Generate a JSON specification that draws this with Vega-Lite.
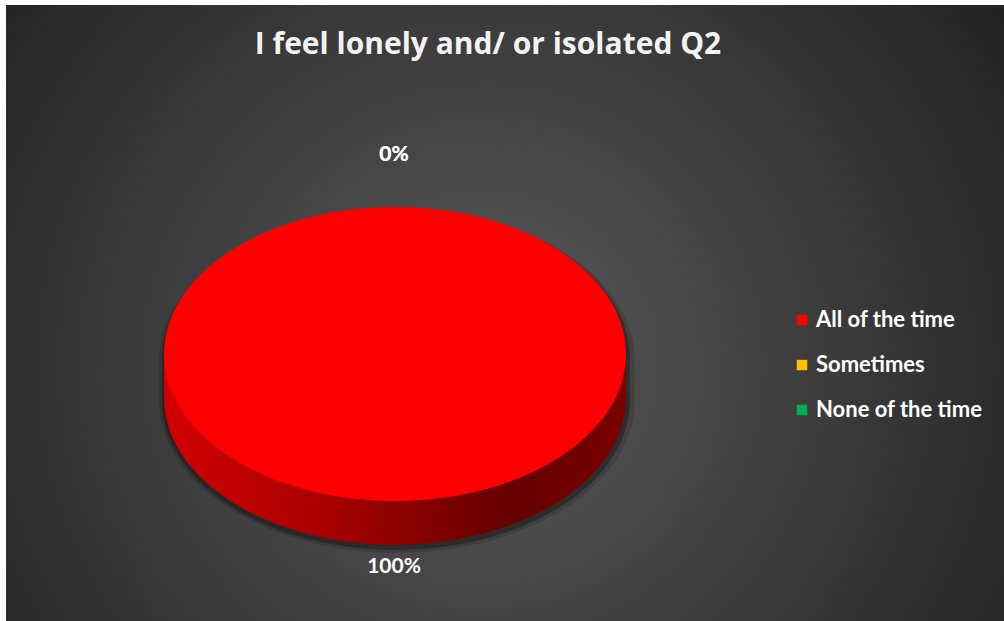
{
  "$schema": "https://vega.github.io/schema/vega-lite/v6.json",
  "width": 1004,
  "height": 621,
  "autosize": {"type": "fit", "contains": "padding"},
  "padding": {"left": 6, "top": 5, "right": 0, "bottom": 0},
  "background": "#ffffff",
  "title": {
    "text": "I feel lonely and/ or isolated Q2",
    "font": "Open Sans",
    "fontSize": 30,
    "fontWeight": "bold",
    "color": "#f2f2f2",
    "offset": -79,
    "baseline": "alphabetic",
    "dx": -17
  },
  "config": {"view": {"stroke": null}},
  "data": {
    "values": [
      {"answer": "All of the time", "share": 1},
      {"answer": "Sometimes", "share": 0},
      {"answer": "None of the time", "share": 0}
    ]
  },
  "layer": [
    {
      "data": {"values": [{}]},
      "mark": {
        "type": "rect",
        "fill": {
          "gradient": "radial",
          "x1": 0.48, "y1": 0.55, "r1": 0,
          "x2": 0.48, "y2": 0.55, "r2": 0.62,
          "stops": [
            {"offset": 0, "color": "#5a5a5a"},
            {"offset": 1, "color": "#232323"}
          ]
        }
      },
      "encoding": {}
    },
    {
      "mark": {
        "type": "point",
        "filled": true,
        "opacity": 0.14,
        "color": "#000000",
        "strokeWidth": 0,
        "shape": "M -1.03 0 A 1.03 0.66 0 0 1 1.03 0 L 1.03 0.17 A 1.03 0.66 0 0 1 -1.03 0.17 Z",
        "xOffset": -108,
        "yOffset": 48
      },
      "encoding": {
        "size": {"field": "share", "type": "quantitative", "scale": {"domain": [0, 1], "range": [0, 213444]}, "legend": null}
      }
    },
    {
      "mark": {
        "type": "point",
        "filled": true,
        "opacity": 0.3,
        "color": "#000000",
        "strokeWidth": 0,
        "shape": "M -1.012 0 A 1.012 0.646 0 0 1 1.012 0 L 1.012 0.185 A 1.012 0.646 0 0 1 -1.012 0.185 Z",
        "xOffset": -109,
        "yOffset": 45
      },
      "encoding": {
        "size": {"field": "share", "type": "quantitative", "scale": {"domain": [0, 1], "range": [0, 213444]}, "legend": null}
      }
    },
    {
      "mark": {
        "type": "point",
        "filled": true,
        "opacity": 1,
        "strokeWidth": 0,
        "shape": "M -1 0 L -1 0.19 A 1 0.636 0 0 0 1 0.19 L 1 0 Z",
        "xOffset": -110,
        "yOffset": 41,
        "fill": {
          "gradient": "linear",
          "x1": 0, "y1": 0, "x2": 1, "y2": 0,
          "stops": [
            {"offset": 0, "color": "#d20000"},
            {"offset": 0.35, "color": "#a80000"},
            {"offset": 0.75, "color": "#650000"},
            {"offset": 1, "color": "#7a0000"}
          ]
        }
      },
      "encoding": {
        "size": {"field": "share", "type": "quantitative", "scale": {"domain": [0, 1], "range": [0, 213444]}, "legend": null}
      }
    },
    {
      "mark": {
        "type": "point",
        "filled": true,
        "opacity": 1,
        "strokeWidth": 0,
        "shape": "M -1 0 A 1 0.636 0 1 0 1 0 A 1 0.636 0 1 0 -1 0 Z",
        "xOffset": -110,
        "yOffset": 41
      },
      "encoding": {
        "color": {
          "field": "answer",
          "type": "nominal",
          "scale": {"domain": ["All of the time", "Sometimes", "None of the time"], "range": ["#ff0000", "#ffc000", "#00b050"]},
          "legend": {
            "orient": "none",
            "legendX": 785,
            "legendY": 304,
            "title": null,
            "symbolType": "square",
            "symbolSize": 110,
            "symbolStrokeWidth": 0,
            "symbolOpacity": 1,
            "labelFont": "Lato",
            "labelFontSize": 22,
            "labelFontWeight": "bold",
            "labelColor": "#ffffff",
            "labelOffset": 3,
            "labelLimit": 400,
            "rowPadding": 23,
            "padding": 0
          }
        },
        "size": {"field": "share", "type": "quantitative", "scale": {"domain": [0, 1], "range": [0, 213444]}, "legend": null}
      }
    },
    {
      "mark": {
        "type": "text",
        "radius": 206,
        "dx": -111,
        "dy": 48,
        "font": "Lato",
        "fontSize": 21,
        "fontWeight": "bold",
        "color": "#ffffff"
      },
      "encoding": {
        "theta": {"field": "share", "type": "quantitative", "stack": true},
        "detail": {"field": "answer", "type": "nominal"},
        "text": {"field": "share", "type": "quantitative", "format": ".0%"}
      }
    }
  ]
}
